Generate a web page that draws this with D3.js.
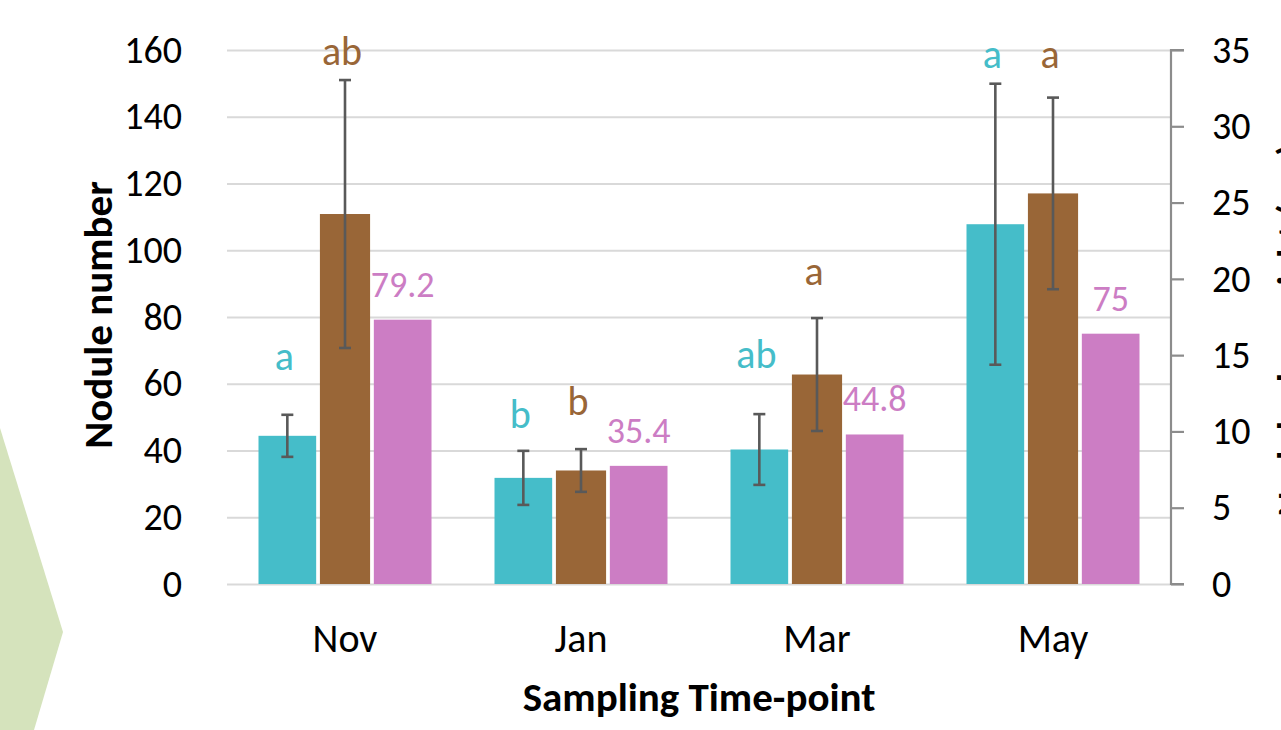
<!DOCTYPE html>
<html>
<head>
<meta charset="utf-8">
<script src="https://cdn.jsdelivr.net/npm/d3@7"></script>
<style>
  body { margin: 0; background: #fff; overflow: hidden; }
  text { font-family: Carlito, Lato, "Open Sans", sans-serif; }
</style>
</head>
<body>
<script>
// data
var categories = ["Nov", "Jan", "Mar", "May"];
var series = ["teal", "brown", "pink"];

// nodule number (left axis)
var tealValues = [44.4, 31.8, 40.3, 107.8];
var tealErrors = [6.3, 8.1, 10.6, 42.1];
var tealLetters = ["a", "b", "ab", "a"];
var tealLetterLevel = [64.1, 46.7, 64.7, 154.6];

// right axis series
var brownValues = [24.25, 7.44, 13.73, 25.6];
var brownErrors = [8.78, 1.4, 3.7, 6.28];
var brownLetters = ["ab", "b", "a", "a"];
var brownLetterLevel = [34.0, 11.1, 19.6, 33.8];

// labelled series (left axis)
var pinkValues = [79.2, 35.4, 44.8, 75];

var leftTicks = [0, 20, 40, 60, 80, 100, 120, 140, 160];
var rightTicks = [0, 5, 10, 15, 20, 25, 30, 35];

var colors = {teal: "#45bdc9", brown: "#996637", pink: "#cc7dc4"};

var width = 1281, height = 730;
var plot = {left: 227, right: 1171, top: 50, bottom: 584};

var svg = d3.select("body").append("svg")
    .attr("width", width)
    .attr("height", height);

// green decoration at the left edge
svg.append("polygon")
    .attr("points", "0,428 63,632 34,730 0,730")
    .attr("fill", "#d5e3bc");

var x0 = d3.scaleBand()
    .domain(categories)
    .range([plot.left, plot.right]);

var x1 = d3.scaleBand()
    .domain(series)
    .range([-86.5, 86.5]);

var yLeft = d3.scaleLinear().domain([0, 160]).range([plot.bottom, plot.top]);
var yRight = d3.scaleLinear().domain([0, 35]).range([plot.bottom, plot.top]);

function cx(c) { return x0(c) + x0.bandwidth() / 2; }

// gridlines + left axis labels
var leftAxis = d3.axisLeft(yLeft)
    .tickValues(leftTicks)
    .tickSize(-(plot.right - plot.left))
    .tickPadding(45);
var gl = svg.append("g")
    .attr("transform", `translate(${plot.left},0)`)
    .call(leftAxis);
gl.select(".domain").remove();
gl.selectAll(".tick line").attr("stroke", "#d9d9d9").attr("stroke-width", 2.2);
gl.selectAll(".tick text")
    .attr("font-size", 38)
    .attr("fill", "#000")
    .attr("x", -45);

// right axis
var rightAxis = d3.axisRight(yRight)
    .tickValues(rightTicks)
    .tickSize(13)
    .tickPadding(28);
var gr = svg.append("g")
    .attr("transform", `translate(${plot.right},0)`)
    .call(rightAxis);
gr.select(".domain").attr("stroke", "#8c8c8c").attr("stroke-width", 2.2)
    .attr("d", `M13,${plot.top}H0V${plot.bottom}H13`);
gr.selectAll(".tick line").attr("stroke", "#8c8c8c").attr("stroke-width", 2.2);
gr.selectAll(".tick text").attr("font-size", 38).attr("fill", "#000");

// bars
var rows = categories.map((c, i) => ({
    cat: c,
    teal: tealValues[i], tealErr: tealErrors[i], tealLetter: tealLetters[i], tealLevel: tealLetterLevel[i],
    brown: brownValues[i], brownErr: brownErrors[i], brownLetter: brownLetters[i], brownLevel: brownLetterLevel[i],
    pink: pinkValues[i]
}));

var bw = x1.bandwidth();
var brownW = bw * 0.87;

var g = svg.append("g");

g.selectAll(".teal").data(rows).enter().append("rect")
    .attr("x", d => cx(d.cat) + x1("teal"))
    .attr("y", d => yLeft(d.teal))
    .attr("width", bw)
    .attr("height", d => plot.bottom - yLeft(d.teal))
    .attr("fill", colors.teal);

g.selectAll(".brown").data(rows).enter().append("rect")
    .attr("x", d => cx(d.cat) + x1("brown") + (bw - brownW) / 2)
    .attr("y", d => yRight(d.brown))
    .attr("width", brownW)
    .attr("height", d => plot.bottom - yRight(d.brown))
    .attr("fill", colors.brown);

g.selectAll(".pink").data(rows).enter().append("rect")
    .attr("x", d => cx(d.cat) + x1("pink"))
    .attr("y", d => yLeft(d.pink))
    .attr("width", bw)
    .attr("height", d => plot.bottom - yLeft(d.pink))
    .attr("fill", colors.pink);

// error bars
function errorBars(key, scale) {
    var eg = g.selectAll(".err-" + key).data(rows).enter().append("g")
        .attr("stroke", "#595959")
        .attr("stroke-width", 2.6);
    var mid = d => cx(d.cat) + x1(key) + bw / 2;
    eg.append("line")
        .attr("x1", mid).attr("x2", mid)
        .attr("y1", d => scale(d[key] + d[key + "Err"]))
        .attr("y2", d => scale(d[key] - d[key + "Err"]));
    eg.append("line")
        .attr("x1", d => mid(d) - 6).attr("x2", d => mid(d) + 6)
        .attr("y1", d => scale(d[key] + d[key + "Err"]))
        .attr("y2", d => scale(d[key] + d[key + "Err"]));
    eg.append("line")
        .attr("x1", d => mid(d) - 6).attr("x2", d => mid(d) + 6)
        .attr("y1", d => scale(d[key] - d[key + "Err"]))
        .attr("y2", d => scale(d[key] - d[key + "Err"]));
}
errorBars("teal", yLeft);
errorBars("brown", yRight);

// significance letters
g.selectAll(".tl").data(rows).enter().append("text")
    .attr("x", d => cx(d.cat) + x1("teal") + bw / 2 - 3)
    .attr("y", d => yLeft(d.tealLevel))
    .attr("text-anchor", "middle")
    .attr("font-size", 40)
    .attr("fill", colors.teal)
    .text(d => d.tealLetter);

g.selectAll(".bl").data(rows).enter().append("text")
    .attr("x", d => cx(d.cat) + x1("brown") + bw / 2 - 3)
    .attr("y", d => yRight(d.brownLevel))
    .attr("text-anchor", "middle")
    .attr("font-size", 40)
    .attr("fill", colors.brown)
    .text(d => d.brownLetter);

// value labels
g.selectAll(".pl").data(rows).enter().append("text")
    .attr("x", d => cx(d.cat) + x1("pink") + bw / 2)
    .attr("y", d => yLeft(d.pink) - 23)
    .attr("text-anchor", "middle")
    .attr("font-size", 36)
    .attr("fill", colors.pink)
    .text(d => d.pink);

// category labels
svg.append("g").selectAll("text").data(categories).enter().append("text")
    .attr("x", d => cx(d))
    .attr("y", 652)
    .attr("text-anchor", "middle")
    .attr("font-size", 40)
    .text(d => d);

// axis titles
svg.append("text")
    .attr("x", 699)
    .attr("y", 711)
    .attr("text-anchor", "middle")
    .attr("font-size", 41)
    .attr("font-weight", "bold")
    .text("Sampling Time-point");

svg.append("text")
    .attr("transform", "rotate(-90)")
    .attr("x", -315)
    .attr("y", 112)
    .attr("text-anchor", "middle")
    .attr("font-size", 41)
    .attr("font-weight", "bold")
    .text("Nodule number");

// secondary title, mostly outside the frame as in the original
svg.append("text")
    .attr("transform", "rotate(-90)")
    .attr("x", -330)
    .attr("y", 1304)
    .attr("text-anchor", "middle")
    .attr("font-size", 38)
    .attr("font-weight", "bold")
    .text("Nodule dry weight (mg)");
</script>
</body>
</html>
